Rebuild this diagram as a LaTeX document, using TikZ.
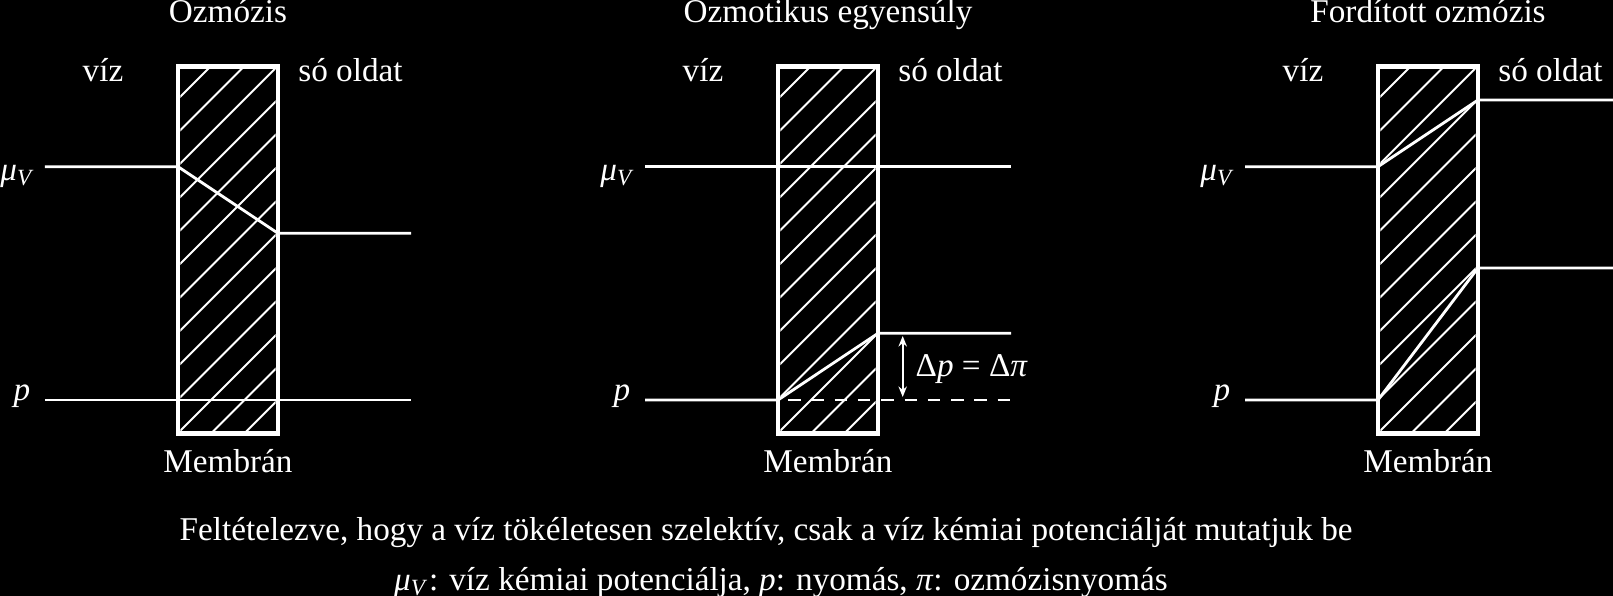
\documentclass[tikz,border=0pt]{standalone}
\usepackage{fontspec}
\setmainfont{Liberation Serif}
\usetikzlibrary{arrows.meta}
\tikzstyle{membrane} = [draw=white,line width=1.35pt]
\tikzstyle{level} = [draw=white,line width=0.8pt]
\tikzstyle{hatch} = [draw=white,line width=0.55pt]
\tikzstyle{label} = [text=white,inner sep=0pt,font=\fontsize{9.45}{11}\selectfont]

\begin{document}
\begin{tikzpicture}
\fill[black] (0,0) rectangle (16.13,-5.96);
\useasboundingbox (0,0) rectangle (16.13,-5.96);
% the three membranes
\foreach \o/\title in {0/Ozmózis, 6/Ozmotikus egyensúly, 12/Fordított ozmózis}{
  \begin{scope}
    \clip (\o+1.803,-0.69) rectangle (\o+2.757,-4.31);
    \foreach \k in {0,...,12}
      \draw[hatch] ({\o+2.77+0.334*\k},0) -- ++(-5,-5);
  \end{scope}
  \node[label,anchor=base] at (\o+2.28,-0.23) (title\o) {\title};
  \node[label,anchor=base] at (\o+1.03,-0.817) (water\o) {víz};
  \node[label,anchor=base] at (\o+3.505,-0.82) (salt\o) {só oldat};
  \node[label,anchor=base] at (\o+2.28,-4.724) (mem\o) {Membrán};
  \node[label,anchor=base east] at (\o+0.36,-1.81) (mu\o) {\textit{μ}\textsubscript{\textit{V}}};
  \node[label,anchor=base east] at (\o+0.31,-4.01) (pl\o) {\textit{p}};
}
% osmosis
\coordinate (a1) at (0.45,-1.667);
\coordinate (a2) at (1.78,-1.667);
\coordinate (a3) at (2.78,-2.333);
\coordinate (a4) at (4.11,-2.333);
\coordinate (b1) at (0.45,-4);
\coordinate (b2) at (4.11,-4);
\draw[level] (a1) -- (a2) -- (a3) -- (a4);
\draw[level] (b1) -- (b2);
% equilibrium
\coordinate (c1) at (6.45,-1.667);
\coordinate (c2) at (10.11,-1.667);
\coordinate (d1) at (6.45,-4);
\coordinate (d2) at (7.78,-4);
\coordinate (d3) at (8.78,-3.333);
\coordinate (d4) at (10.11,-3.333);
\coordinate (d5) at (10.11,-4);
\draw[level] (c1) -- (c2);
\draw[level] (d1) -- (d2) -- (d3) -- (d4);
\draw[level,dash pattern=on 3.56pt off 3.07pt,dash phase=3.78pt] (d2) -- (d5);
\coordinate (e1) at (9.027,-3.36);
\coordinate (e2) at (9.027,-3.97);
\draw[white,line width=0.6pt,{Stealth[length=3pt,width=2.4pt]}-{Stealth[length=3pt,width=2.4pt]}] (e1) -- (e2);
\node[label,anchor=base west] at (9.15,-3.767) (dp) {Δ\textit{p} = Δ\textit{π}};
% reverse osmosis
\coordinate (f1) at (12.45,-1.667);
\coordinate (f2) at (13.78,-1.667);
\coordinate (f3) at (14.78,-1.0);
\coordinate (f4) at (16.13,-1.0);
\coordinate (g1) at (12.45,-4);
\coordinate (g2) at (13.78,-4);
\coordinate (g3) at (14.78,-2.68);
\coordinate (g4) at (16.13,-2.68);
\draw[level] (f1) -- (f2) -- (f3) -- (f4);
\draw[level] (g1) -- (g2) -- (g3) -- (g4);
\foreach \o in {0,6,12}
  \draw[membrane] (\o+1.78,-0.667) rectangle (\o+2.78,-4.333);
% notes
\node[label,anchor=base] at (7.66,-5.407) (note1) {Feltételezve, hogy a víz tökéletesen szelektív, csak a víz kémiai potenciálját mutatjuk be};
\node[label,anchor=base] at (7.81,-5.907) (note2) {\textit{μ}\textsubscript{\textit{V}}: víz kémiai potenciálja, \textit{p}: nyomás, \textit{π}: ozmózisnyomás};
\end{tikzpicture}
\end{document}
